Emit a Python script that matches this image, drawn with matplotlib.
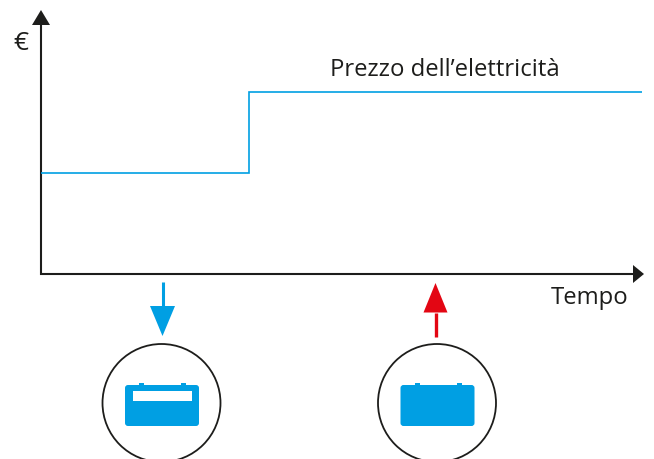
import matplotlib
matplotlib.use('Agg')
import matplotlib.pyplot as plt
from matplotlib.patches import Circle, FancyBboxPatch, Rectangle

# price step, time in hours and price in arbitrary units
time_hours = [0, 8.3, 24]
price = [1.0, 1.8, 1.8]

price_label = 'Prezzo dell\u2019elettricit\u00e0'
x_label = 'Tempo'
y_label = '\u20ac'

BLUE = '#009fe3'
RED = '#e30613'
BLACK = '#1d1d1b'
W, H = 654, 459

plt.rcParams['font.family'] = ['Open Sans', 'DejaVu Sans']

fig = plt.figure(figsize=(W / 100, H / 100), dpi=100)

# whole figure in pixels, for the axes arrows and the batteries
bg = fig.add_axes([0, 0, 1, 1])
bg.set_xlim(0, W)
bg.set_ylim(H, 0)
bg.axis('off')

# the price line goes on its own axes, origin on the arrows' corner
x0, x1, y0, y1 = 41, 642, 273.5, 10
ax = fig.add_axes([x0 / W, 1 - y0 / H, (x1 - x0) / W, (y0 - y1) / H], facecolor='none')
ax.set_xlim(0, 24)
ax.set_ylim(0, (y0 - y1) / 101)
ax.axis('off')
ax.step(time_hours, price, where='post', color=BLUE, lw=1.2, solid_joinstyle='miter')


def arrow_v(x, y_start, y_base, y_tip, half, color, lw):
    bg.fill([x - half, x + half, x], [y_base, y_base, y_tip], color=color, lw=0)
    bg.plot([x, x], [y_start, y_base], color=color, lw=lw, solid_capstyle='butt')


# axes
arrow_v(41, 274.5, 25, 10, 9, BLACK, 1.5)
bg.plot([40, 633], [273.5, 273.5], color=BLACK, lw=1.5, solid_capstyle='butt')
bg.fill([633, 633, 644], [265, 283, 274], color=BLACK, lw=0)

# charge and discharge arrows
arrow_v(162.5, 282, 306, 336, 12.5, BLUE, 2.2)
arrow_v(435.5, 337, 312.5, 283, 12, RED, 2.4)


def battery(cx):
    bg.add_patch(Circle((cx, 403), 59, fc='none', ec=BLACK, lw=1.3))
    left = cx - 36.5
    bg.add_patch(FancyBboxPatch((left + 3, 388), 68, 35, boxstyle='round,pad=3', fc=BLUE, ec='none'))
    for tx in (left + 14, left + 56):
        bg.add_patch(Rectangle((tx, 383), 5.3, 3, fc=BLUE, ec='none'))


battery(161.5)
battery(437)
# charge window on the first battery only
bg.add_patch(Rectangle((133, 390.7), 58.7, 10.6, fc='white', ec='none'))

bg.text(330, 70.5, price_label, fontsize=17.2, color=BLACK, va='center', ha='left')
bg.text(551, 298.5, x_label, fontsize=17.2, color=BLACK, va='center', ha='left')
bg.text(21, 43, y_label, fontsize=19, color=BLACK, va='center', ha='center')

fig.savefig('out.png', dpi=100)
